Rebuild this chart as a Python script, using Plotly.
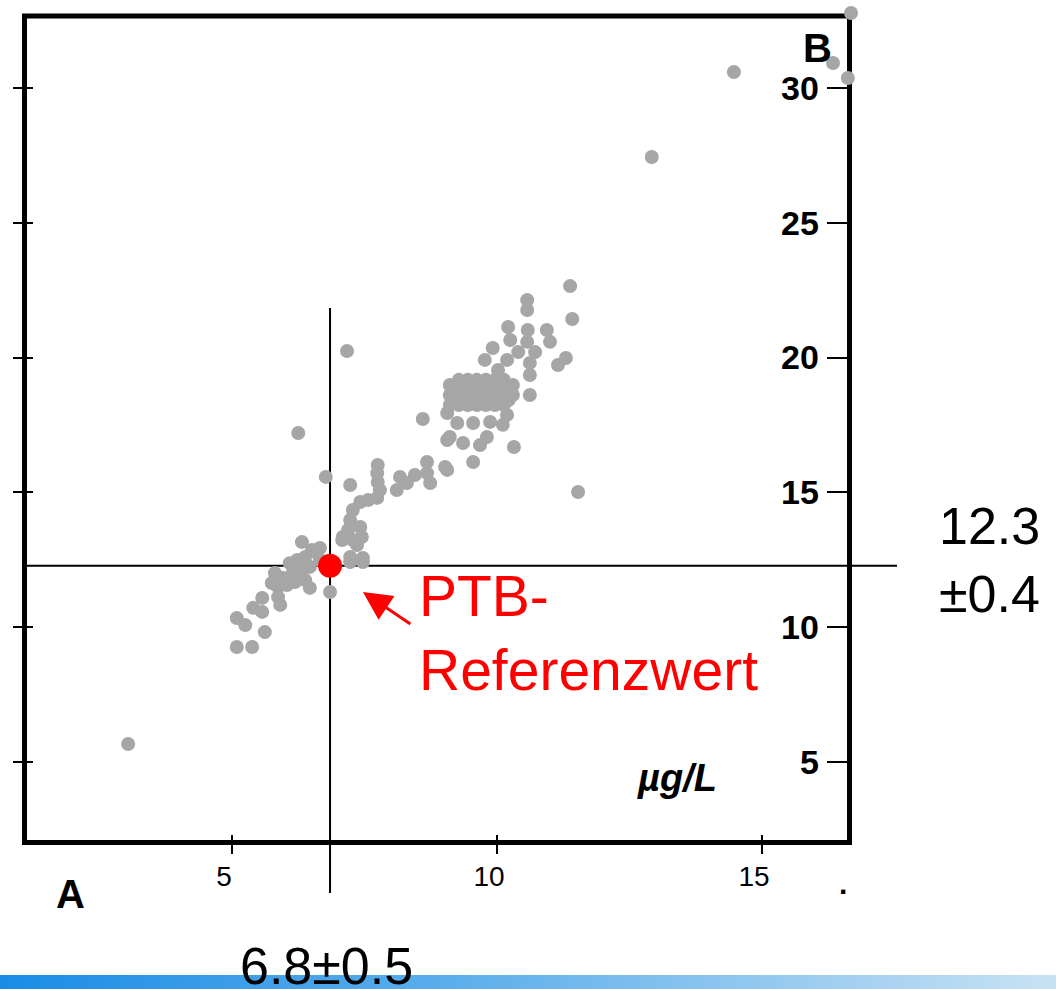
import base64
import plotly.graph_objects as go

# ---------------- data ----------------
gray_x = [
    # lower cluster
    6.32, 6.51, 6.66, 6.38, 6.23, 6.09, 6.60, 6.47, 6.32, 6.15, 5.81, 5.96, 5.75, 5.87, 6.04,
    6.19, 6.38, 6.47, 5.87, 5.91, 5.57, 5.40, 5.57, 5.09, 5.25, 5.62, 5.09, 5.38, 6.85, 7.08,
    7.23, 7.47, 6.66,
    # middle band
    7.75, 7.74, 7.75, 7.79, 7.23, 8.17, 8.11, 8.30, 8.45, 8.68, 8.68, 8.74, 9.06, 9.06, 7.42,
    7.57, 7.74, 7.28, 7.23, 7.42, 7.19, 7.09, 7.28, 7.45, 7.36, 7.23, 7.47, 6.77, 8.60,
    # upper cluster
    10.57, 10.57, 10.21, 10.58, 10.94, 10.25, 10.57, 11.00, 9.92, 10.40, 10.72, 9.77, 10.19,
    10.62, 11.15, 11.30, 10.02, 10.62, 10.62, 9.06, 9.25, 9.55, 9.87, 10.19, 10.11, 9.11,
    9.36, 9.68, 9.81, 10.32, 9.55, 9.02, 11.38, 11.42, 11.53,
    # dense core
    9.11, 9.28, 9.45, 9.62, 9.79, 9.96, 10.13, 10.30,
    9.20, 9.37, 9.54, 9.71, 9.88, 10.05, 10.22,
    9.11, 9.28, 9.45, 9.62, 9.79, 9.96, 10.13, 10.30,
    9.20, 9.37, 9.54, 9.71, 9.88, 10.05, 10.22,
    9.11, 9.28, 9.45, 9.62, 9.79, 9.96, 10.13,
    9.28, 9.45, 9.62, 9.79, 9.96, 10.13,
    # outliers
    12.92, 14.47, 16.68, 16.34, 16.62, 3.04, 6.25, 7.17,
]
gray_y = [
    13.15, 12.86, 12.93, 12.60, 12.49, 12.37, 12.75, 12.23, 12.12, 12.04, 12.00, 11.82, 11.63, 11.48, 11.56,
    11.67, 11.74, 11.45, 11.11, 10.82, 11.08, 10.71, 10.56, 10.33, 10.07, 9.81, 9.26, 9.26, 11.30, 13.23,
    12.41, 12.41, 12.49,
    16.01, 15.71, 15.38, 15.08, 15.27, 15.57, 15.08, 15.34, 15.64, 16.12, 15.71, 15.34, 15.83, 16.94, 14.64,
    14.71, 14.79, 14.34, 13.97, 13.71, 13.60, 13.34, 13.23, 13.34, 13.04, 12.60, 12.56, 15.57, 17.72,
    22.13, 21.76, 21.13, 21.02, 21.02, 20.65, 20.58, 20.58, 20.35, 20.20, 20.20, 19.91, 19.91,
    19.80, 19.72, 19.98, 19.54, 19.35, 18.61, 17.94, 17.57, 17.57, 17.61, 17.87, 17.50, 17.05,
    16.83, 16.75, 17.05, 16.68, 16.12, 15.94, 22.65, 21.43, 15.01,
    18.98, 18.98, 18.98, 18.98, 18.98, 18.98, 18.98, 18.98,
    18.80, 18.80, 18.80, 18.80, 18.80, 18.80, 18.80,
    18.61, 18.61, 18.61, 18.61, 18.61, 18.61, 18.61, 18.61,
    18.42, 18.42, 18.42, 18.42, 18.42, 18.42, 18.42,
    18.24, 18.24, 18.24, 18.24, 18.24, 18.24, 18.24,
    19.17, 19.17, 19.17, 19.17, 19.17, 19.17,
    27.44, 30.59, 32.78, 30.93, 30.37, 5.66, 17.20, 20.24,
]

ref_x = [6.85]
ref_y = [12.27]
ref_x_label = "6.8±0.5"
ref_y_label = "12.3<br>±0.4"
ref_name = "PTB-<br>Referenzwert"

x_ticks = [5, 10, 15]
y_ticks = [5, 10, 15, 20, 25, 30]
x_range = [1.0, 16.755]
y_range = [1.911, 32.894]

# ---------------- figure ----------------
W, H = 1056, 989
L, R, T, B = 20, 201, 10, 144
pw, ph = W - L - R, H - T - B


def px(xp):
    return (xp - L) / pw


def py(yp):
    return (H - B - yp) / ph


fig = go.Figure()
fig.add_trace(go.Scatter(
    x=gray_x, y=gray_y, mode="markers",
    marker=dict(size=14, color="#a6a6a6", line=dict(width=0)),
    cliponaxis=False, hoverinfo="skip", showlegend=False,
))
fig.add_trace(go.Scatter(
    x=ref_x, y=ref_y, mode="markers",
    marker=dict(size=24, color="#ff0000", line=dict(width=0)),
    cliponaxis=False, showlegend=False,
))
# helper trace for overlay axes (left & inner ticks)
fig.add_trace(go.Scatter(x=[None], y=[None], xaxis="x2", yaxis="y2",
                         showlegend=False, hoverinfo="skip"))

fig.update_layout(
    width=W, height=H,
    margin=dict(l=L, r=R, t=T, b=B),
    paper_bgcolor="white", plot_bgcolor="white",
    font=dict(family="Liberation Sans, Arial, sans-serif", color="black"),
    xaxis=dict(
        range=x_range, tickvals=x_ticks, ticks="", showgrid=False, zeroline=False,
        showline=False, anchor="free", position=py(842.5),
        tickfont=dict(size=28, color="black"), ticklabelstandoff=14, ticklabelshift=-8,
    ),
    yaxis=dict(
        range=y_range, tickvals=y_ticks, side="right", ticks="inside", ticklen=24,
        tickwidth=2, tickcolor="black", showgrid=False, zeroline=False,
        showline=False, anchor="free", position=px(851),
        ticklabelposition="inside", ticklabelstandoff=12,
        tickfont=dict(size=34, color="black", weight="bold"),
    ),
    xaxis2=dict(
        overlaying="x", range=x_range, tickvals=x_ticks, ticks="outside", ticklen=19,
        tickwidth=2, tickcolor="black", showticklabels=False, showgrid=False,
        zeroline=False, showline=False, anchor="free", position=py(834), side="bottom",
    ),
    yaxis2=dict(
        overlaying="y", range=y_range, tickvals=y_ticks, ticks="outside", ticklen=20,
        tickwidth=2, tickcolor="black", showticklabels=False, showgrid=False,
        zeroline=False, showline=False, anchor="free", position=px(33), side="left",
    ),
)

# frame of the plot
fig.add_shape(type="rect", xref="paper", yref="paper", x0=px(24.5), x1=px(849.5),
              y0=py(842.5), y1=py(16), line=dict(color="black", width=5), layer="below")

# crosshair lines through the reference value
fig.add_shape(type="line", xref="x", yref="paper", x0=ref_x[0], x1=ref_x[0],
              y0=py(893), y1=py(308), line=dict(color="black", width=2), layer="below")
fig.add_shape(type="line", xref="paper", yref="y", x0=px(22), x1=px(897),
              y0=ref_y[0], y1=ref_y[0], line=dict(color="black", width=2), layer="below")

# arrow to the reference point
fig.add_annotation(x=7.47, y=11.30, xref="x", yref="y", text="", showarrow=True,
                   ax=49, ay=33, arrowcolor="#ff0000", arrowwidth=3,
                   arrowhead=2, arrowsize=1.9, standoff=0)

ann_common = dict(xref="paper", yref="paper", showarrow=False)
fig.add_annotation(text=ref_name, x=px(417), y=py(633), xanchor="left", yanchor="middle",
                   align="left", font=dict(size=57, color="#ff0000"), **ann_common)
fig.add_annotation(text=ref_y_label, x=px(937), y=py(560), xanchor="left", yanchor="middle",
                   align="left", font=dict(size=52, color="black"), **ann_common)
fig.add_annotation(text=ref_x_label, x=px(238), y=py(966), xanchor="left", yanchor="middle",
                   align="left", font=dict(size=52, color="black"), **ann_common)
fig.add_annotation(text="<b>A</b>", x=px(70), y=py(894), xanchor="center", yanchor="middle",
                   font=dict(size=40, color="black"), **ann_common)
fig.add_annotation(text="<b>B</b>", x=px(817), y=py(48), xanchor="center", yanchor="middle",
                   font=dict(size=40, color="black"), **ann_common)
fig.add_annotation(text="<b><i>µg/L</i></b>", x=px(677), y=py(778), xanchor="center",
                   yanchor="middle", font=dict(size=38, color="black"), **ann_common)
fig.add_annotation(text="<b>.</b>", x=px(843), y=py(884), xanchor="center", yanchor="middle",
                   font=dict(size=30, color="black"), **ann_common)

# decorative gradient bar at the bottom
svg = ('<svg xmlns="http://www.w3.org/2000/svg" width="1056" height="14" '
       'preserveAspectRatio="none"><defs><linearGradient id="g" x1="0" x2="1" y1="0" y2="0">'
       '<stop offset="0" stop-color="#1a8ce6"/><stop offset="0.45" stop-color="#5fb0ec"/>'
       '<stop offset="1" stop-color="#c8e2f3"/></linearGradient></defs>'
       '<rect width="1056" height="14" fill="url(#g)"/></svg>')
uri = "data:image/svg+xml;base64," + base64.b64encode(svg.encode()).decode()
fig.add_layout_image(source=uri, xref="paper", yref="paper", x=px(0), y=py(975),
                     sizex=W / pw, sizey=14 / ph, xanchor="left", yanchor="top",
                     sizing="stretch", layer="below")

fig.write_html("out.html", config={"displayModeBar": False},
               post_script="document.body.style.margin='0';")
